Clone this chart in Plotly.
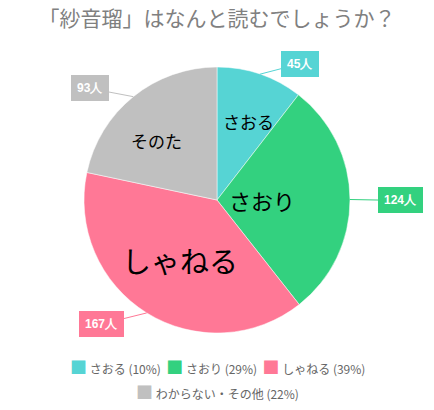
import math
import plotly.graph_objects as go

# data
names = ["さおる", "さおり", "しゃねる", "わからない・その他"]
inside_labels = ["さおる", "さおり", "しゃねる", "そのた"]
counts = [45, 124, 167, 93]
colors = ["#56D4D4", "#33D17F", "#FF7896", "#C0C0C0"]

# styling per slice label (font size, radial position as share of radius)
inside_sizes = [17, 22, 29, 17]
inside_radius = [0.74, 0.34, 0.53, 0.72]

W, H = 434, 410
cx, cy, r = 217, 200, 133
FONT = "Noto Sans CJK JP"

total = sum(counts)
pcts = [round(c / total * 100) for c in counts]

fig = go.Figure(go.Pie(
    labels=names,
    values=counts,
    textinfo="none",
    marker=dict(colors=colors, line=dict(color="white", width=0.5)),
    sort=False,
    direction="clockwise",
    rotation=0,
    hoverinfo="label+value+percent",
    showlegend=False,
    domain=dict(x=[(cx - r) / W, (cx + r) / W], y=[1 - (cy + r) / H, 1 - (cy - r) / H]),
))

start = 0
for c, col, lab, fs, rf in zip(counts, colors, inside_labels, inside_sizes, inside_radius):
    mid = (start + c / 2) / total * 2 * math.pi
    start += c
    dx, dy = math.sin(mid), -math.cos(mid)

    # label inside the slice
    fig.add_annotation(
        x=(cx + rf * r * dx) / W, y=1 - (cy + rf * r * dy) / H,
        xref="paper", yref="paper", showarrow=False,
        text=lab, font=dict(size=fs, color="black", family=FONT),
    )

    # callout box with the count
    ex, ey = cx + r * dx, cy + r * dy
    ox, oy = cx + (r + 12) * dx, cy + (r + 12) * dy
    half_w = 18 + 3 * len(str(c))
    bx = ox + (1 if dx >= 0 else -1) * (half_w + 12)
    fig.add_annotation(
        x=ex / W, y=1 - ey / H, xref="paper", yref="paper",
        ax=bx - ex, ay=oy - ey + 1,
        text=f"<b>{c}人</b>",
        showarrow=True, arrowhead=0, arrowwidth=1, arrowcolor=col, standoff=0,
        bgcolor=col, bordercolor=col, borderpad=5,
        font=dict(color="white", size=12, family="Arial"),
    )


# legend drawn as two centred text rows
def item(name, pct, col):
    return (f'<span style="color:{col};font-size:17px">■</span> '
            f'{name} ({pct}%)')


rows = [[0, 1, 2], [3]]
for i, row in enumerate(rows):
    fig.add_annotation(
        x=0.5, y=1 - (366 + 25 * i) / H, xref="paper", yref="paper",
        showarrow=False, xanchor="center", yanchor="middle",
        text="  ".join(item(names[k], pcts[k], colors[k]) for k in row),
        font=dict(size=12, color="#666666", family=FONT),
    )

fig.update_layout(
    width=W, height=H,
    margin=dict(l=0, r=0, t=0, b=0),
    paper_bgcolor="white",
    title=dict(text="「紗音瑠」はなんと読むでしょうか？", x=0.5, xanchor="center",
               y=1 - 19 / H, yanchor="middle",
               font=dict(size=21, color="#808080", family=FONT)),
)

fig.write_html("out.html", config={"displayModeBar": False},
               post_script="document.body.style.margin='0';")
